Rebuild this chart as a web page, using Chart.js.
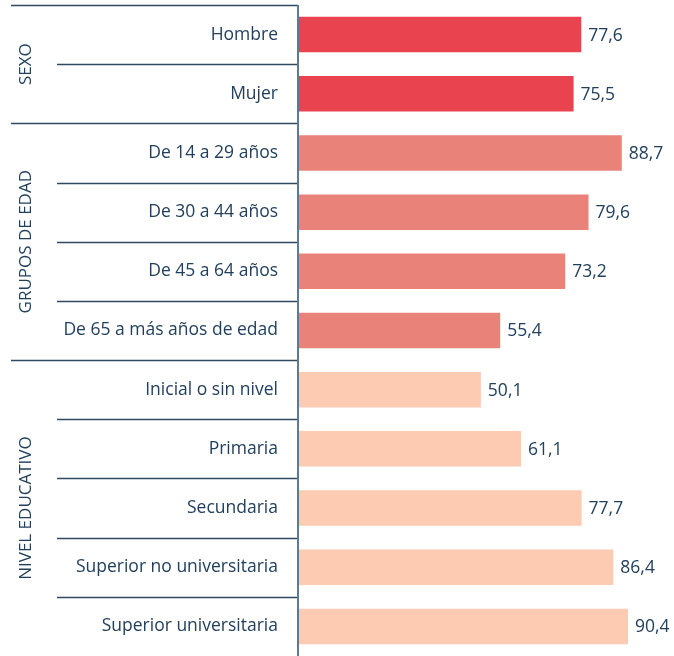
<!DOCTYPE html>
<html>
<head>
<meta charset="utf-8">
<script src="https://cdn.jsdelivr.net/npm/chart.js@4/dist/chart.umd.min.js"></script>
<style>
html,body{margin:0;padding:0;background:#fff;}
#wrap{width:674px;height:656px;position:relative;}
</style>
</head>
<body>
<div id="wrap"><canvas id="c"></canvas></div>
<script>
const categories = ["Hombre","Mujer","De 14 a 29 años","De 30 a 44 años","De 45 a 64 años","De 65 a más años de edad","Inicial o sin nivel","Primaria","Secundaria","Superior no universitaria","Superior universitaria"];
const values = [77.6,75.5,88.7,79.6,73.2,55.4,50.1,61.1,77.7,86.4,90.4];
const groupNames = ["SEXO","GRUPOS DE EDAD","NIVEL EDUCATIVO"];
const groupSizes = [2,4,5];
const groupColors = ["#E8434F","#E9837A","#FDCAB2"];

const barColors = [];
groupSizes.forEach((n,g)=>{for(let i=0;i<n;i++)barColors.push(groupColors[g]);});

const TEXT = "#22405E";
const LINE = "#2E4A62";

const decor = {
  id:'decor',
  afterDatasetsDraw(chart){
    const ctx = chart.ctx, y = chart.scales.y, ca = chart.chartArea;
    const n = categories.length;
    const bound = i => i===0 ? ca.top : (i===n ? ca.bottom : (y.getPixelForValue(i-1)+y.getPixelForValue(i))/2);
    ctx.save();
    const groupStarts = [0];
    groupSizes.reduce((a,s)=>{groupStarts.push(a+s);return a+s;},0);
    ctx.strokeStyle = LINE; ctx.lineWidth = 1.3;
    for(let i=0;i<n;i++){
      const yy = Math.round(bound(i))+0.5;
      const isGroup = groupStarts.includes(i);
      ctx.beginPath(); ctx.moveTo(isGroup?11:57, yy); ctx.lineTo(ca.left, yy); ctx.stroke();
    }
    ctx.strokeStyle = "#5B7A93"; ctx.lineWidth = 2;
    ctx.beginPath(); ctx.moveTo(ca.left, ca.top); ctx.lineTo(ca.left, ca.bottom); ctx.stroke();
    ctx.fillStyle = TEXT; ctx.font = "17px 'Open Sans'"; ctx.textAlign='center'; ctx.textBaseline='middle';
    groupNames.forEach((g,k)=>{
      const yc = (bound(groupStarts[k])+bound(groupStarts[k+1]))/2;
      ctx.save(); ctx.translate(26, yc); ctx.rotate(-Math.PI/2); ctx.fillText(g,0,0); ctx.restore();
    });
    ctx.font = "17.5px 'Open Sans'"; ctx.textAlign='left';
    const meta = chart.getDatasetMeta(0);
    meta.data.forEach((bar,i)=>{
      ctx.fillText(values[i].toFixed(1).replace('.',','), bar.x+7, bar.y+1);
    });
    ctx.restore();
  }
};

new Chart(document.getElementById('c'),{
  type:'bar',
  data:{labels:categories,datasets:[{data:values,backgroundColor:barColors,borderWidth:0,categoryPercentage:1,barPercentage:0.6}]},
  options:{
    indexAxis:'y',
    responsive:true, maintainAspectRatio:false, animation:false,
    layout:{padding:{top:5,right:11,bottom:0,left:0}},
    plugins:{legend:{display:false},tooltip:{enabled:false}},
    scales:{
      x:{display:false,min:0,max:100},
      y:{
        grid:{display:false},border:{display:false},
        ticks:{color:TEXT,font:{family:"'Open Sans'",size:17.5},padding:12,autoSkip:false},
        afterFit(s){s.width=298; s.paddingTop=0; s.paddingBottom=0;}
      }
    }
  },
  plugins:[decor]
});
</script>
</body>
</html>
